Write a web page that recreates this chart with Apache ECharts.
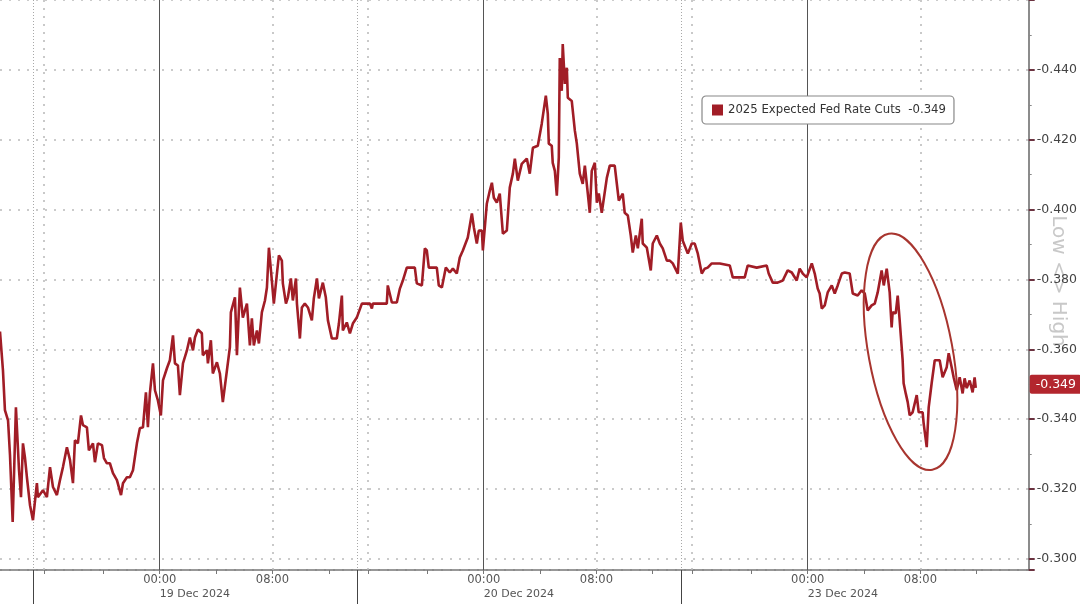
<!DOCTYPE html>
<html><head><meta charset="utf-8">
<script src="https://cdn.jsdelivr.net/npm/echarts@6/dist/echarts.min.js"></script>
<style>html,body{margin:0;padding:0;background:#fff}#c{width:1080px;height:604px}</style>
</head><body><div id="c"></div>
<script>
const seriesName = '2025 Expected Fed Rate Cuts';
const lastValue = -0.349;
// trading-hour index, 0 = start of the 19 Dec session
const hours = [
-2.34,-2.13,-1.99,-1.77,-1.63,-1.44,-1.21,-0.99,-0.85,-0.71,
-0.57,-0.43,-0.21,0,0.28,0.35,0.71,0.99,1.21,1.42,
1.70,1.92,2.13,2.41,2.63,2.84,2.98,3.19,3.41,3.55,
3.83,3.97,4.26,4.40,4.61,4.90,5.04,5.25,5.46,5.68,
5.96,6.25,6.39,6.67,6.88,7.10,7.38,7.59,7.81,8.02,
8.16,8.30,8.52,8.66,8.87,9.08,9.23,9.51,9.72,9.94,
10.08,10.29,
10.43,10.65,10.93,11.14,11.36,11.50,11.71,11.99,12.06,12.35,
12.42,12.63,12.77,13.06,13.27,13.48,13.77,13.98,14.05,14.19,
14.34,14.48,14.69,14.90,15.19,15.40,15.54,15.68,15.90,16.04,
16.25,16.47,16.61,16.75,16.96,17.10,17.32,17.46,17.67,17.74,
17.96,18.10,18.31,18.45,18.67,18.74,18.95,19.09,19.30,19.52,
19.80,19.94,20.16,20.30,20.58,20.79,20.94,21.22,21.57,21.72,
21.93,22.00,22.28,22.50,22.71,22.99,23.35,23.92,24.06,24.13,
25.12,25.19,25.48,25.83,26.05,26.26,26.54,27.11,27.25,27.61,
27.82,27.96,28.10,28.67,28.81,29.03,29.31,29.59,29.81,30.09,
30.30,30.52,30.87,31.16,31.30,31.51,31.65,31.87,31.94,32.22,
32.43,32.58,32.72,32.93,33.14,33.36,33.64,33.85,34.07,34.21,
34.42,34.70,35.06,35.27,35.49,35.84,36.12,36.41,36.55,36.62,
36.83,36.90,37.05,37.19,37.33,37.40,37.54,37.61,37.76,37.90,
37.97,38.25,38.47,38.61,38.82,39.03,39.18,39.39,39.53,39.67,
39.89,40.03,40.17,40.38,40.52,40.74,40.95,41.30,41.45,41.59,
41.87,42.01,42.23,42.44,42.58,42.80,42.94,43.22,43.29,43.58,
43.86,44.00,44.29,44.50,44.71,45.00,45.21,45.42,45.78,
45.99,46.13,46.49,46.77,46.98,47.20,47.48,47.69,47.90,48.19,
48.76,49.47,49.68,50.53,50.74,51.38,52.09,52.23,52.52,52.87,
53.23,53.58,53.87,54.22,54.43,54.65,54.93,55.29,55.50,55.71,
55.85,56.00,56.21,56.42,56.71,56.92,57.13,57.42,57.63,57.98,
58.20,58.55,58.83,59.05,59.26,59.54,59.76,59.97,60.25,60.40,
60.61,60.82,60.96,61.03,61.25,61.39,61.53,61.74,61.81,61.96,
62.10,62.24,62.45,62.74,62.88,63.16,63.23,63.45,63.59,63.80,
64.02,64.37,64.58,64.87,65.01,65.22,65.36,65.58,65.79,66.00,
66.14,66.29,66.50,66.71,66.85,66.93
];
const cuts = [
-0.3651,-0.3540,-0.3426,-0.3397,-0.3297,-0.3106,-0.3434,-0.3254,-0.3177,-0.3331,
-0.3291,-0.3234,-0.3154,-0.3111,-0.3217,-0.3177,-0.3197,-0.3177,-0.3263,-0.3206,
-0.3183,-0.3226,-0.3263,-0.3320,-0.3283,-0.3217,-0.3340,-0.3331,-0.3411,-0.3383,
-0.3377,-0.3311,-0.3331,-0.3277,-0.3331,-0.3326,-0.3289,-0.3274,-0.3274,-0.3246,
-0.3226,-0.3183,-0.3217,-0.3234,-0.3234,-0.3254,-0.3331,-0.3374,-0.3377,-0.3477,
-0.3377,-0.3474,-0.3560,-0.3483,-0.3454,-0.3411,-0.3511,-0.3546,-0.3569,-0.3640,
-0.3560,-0.3554,
-0.3469,-0.3560,-0.3597,-0.3634,-0.3597,-0.3634,-0.3657,-0.3646,-0.3583,-0.3597,
-0.3560,-0.3626,-0.3531,-0.3563,-0.3531,-0.3449,-0.3540,-0.3606,-0.3706,-0.3703,
-0.3749,-0.3583,-0.3777,-0.3691,-0.3731,-0.3611,-0.3689,-0.3611,-0.3654,-0.3617,
-0.3706,-0.3740,-0.3777,-0.3891,-0.3797,-0.3731,-0.3817,-0.3869,-0.3854,-0.3789,
-0.3731,-0.3749,-0.3803,-0.3740,-0.3803,-0.3731,-0.3631,-0.3720,-0.3731,-0.3720,
-0.3683,-0.3746,-0.3803,-0.3746,-0.3791,-0.3749,-0.3683,-0.3631,-0.3631,-0.3674,
-0.3754,-0.3654,-0.3677,-0.3646,-0.3674,-0.3691,-0.3731,-0.3731,-0.3717,-0.3731,
-0.3731,-0.3783,-0.3734,-0.3734,-0.3774,-0.3797,-0.3834,-0.3834,-0.3789,-0.3783,
-0.3889,-0.3883,-0.3834,-0.3834,-0.3783,-0.3777,-0.3834,-0.3820,-0.3831,-0.3817,
-0.3863,-0.3883,-0.3920,-0.3989,-0.3949,-0.3903,-0.3940,-0.3940,-0.3883,-0.4017,
-0.4054,-0.4077,-0.4034,-0.4020,-0.4046,-0.3931,-0.3940,-0.4063,-0.4103,-0.4146,
-0.4083,-0.4131,-0.4146,-0.4103,-0.4177,-0.4183,-0.4246,-0.4326,-0.4274,-0.4189,
-0.4183,-0.4134,-0.4111,-0.4040,-0.4149,-0.4434,-0.4340,-0.4474,-0.4360,-0.4406,
-0.4320,-0.4311,-0.4226,-0.4189,-0.4103,-0.4074,-0.4126,-0.4046,-0.3991,-0.4111,
-0.4134,-0.4020,-0.4046,-0.3991,-0.3991,-0.4091,-0.4126,-0.4126,-0.4074,-0.4026,
-0.4046,-0.3991,-0.3983,-0.3926,-0.3877,-0.3926,-0.3889,-0.3974,-0.3903,-0.3891,
-0.3826,-0.3903,-0.3926,-0.3903,-0.3889,-0.3854,-0.3854,-0.3846,-0.3817,
-0.3963,-0.3911,-0.3874,-0.3903,-0.3903,-0.3874,-0.3817,-0.3831,-0.3834,-0.3846,
-0.3846,-0.3840,-0.3806,-0.3806,-0.3840,-0.3834,-0.3840,-0.3817,-0.3791,-0.3791,
-0.3797,-0.3826,-0.3820,-0.3797,-0.3831,-0.3817,-0.3806,-0.3846,-0.3817,-0.3774,
-0.3760,-0.3717,-0.3726,-0.3763,-0.3783,-0.3760,-0.3783,-0.3817,-0.3820,-0.3817,
-0.3760,-0.3754,-0.3769,-0.3760,-0.3711,-0.3726,-0.3731,-0.3763,-0.3826,-0.3783,
-0.3831,-0.3763,-0.3663,-0.3706,-0.3703,-0.3754,-0.3683,-0.3569,-0.3503,-0.3474,
-0.3449,-0.3411,-0.3420,-0.3469,-0.3420,-0.3420,-0.3389,-0.3320,-0.3434,-0.3503,
-0.3569,-0.3569,-0.3520,-0.3549,-0.3589,-0.3549,-0.3520,-0.3483,-0.3520,-0.3474,
-0.3517,-0.3489,-0.3511,-0.3477,-0.3520,-0.349
];
const timeTickHours = [9, 17, 32, 40, 55, 63];
const timeTickLabels = ['00:00', '08:00', '00:00', '08:00', '00:00', '08:00'];
const dayCenterHours = [11.5, 34.5, 57.5];
const dayLabels = ['19 Dec 2024', '20 Dec 2024', '23 Dec 2024'];
const dayBoundaryHours = [0, 23, 46];
const minorTickHours = [0.8, 5, 9, 13, 17, 21, 23.8, 28, 32, 36, 40, 44, 46.8, 51, 55, 59, 63, 67];
const midnightHours = [9, 32, 55];
const dottedHours = [0.8, 17, 23.8, 40, 46.8, 63];
const yTickValues = [-0.44, -0.42, -0.40, -0.38, -0.36, -0.34, -0.32, -0.30];
const highlight = { hour: 62.3, value: -0.3593 };

const lineColor = '#a11d26';
const xMin = -2.34, xMax = 70.69;

const markData = [];
dayBoundaryHours.forEach(h => markData.push({ xAxis: h, lineStyle: { color: '#a8a8a8', type: [1, 2], width: 1 } }));
dottedHours.forEach(h => markData.push({ xAxis: h, lineStyle: { color: '#b8b8b8', type: [2, 6], width: 1.5 } }));
midnightHours.forEach(h => markData.push({ xAxis: h, lineStyle: { color: '#555', type: 'solid', width: 1 } }));
markData.push({
  yAxis: lastValue,
  lineStyle: { color: 'rgba(0,0,0,0)', width: 0 },
  label: {
    show: true, position: 'end', distance: 1,
    formatter: () => lastValue.toFixed(3),
    backgroundColor: '#b3262e', color: '#fff', fontSize: 12.5, fontFamily: 'DejaVu Sans',
    padding: [3, 5, 3, 6], borderRadius: 2
  }
});

const chart = echarts.init(document.getElementById('c'), null, { renderer: 'canvas' });
const option = {
  backgroundColor: '#fff',
  animation: false,
  grid: { left: 0, right: 51, top: 0, bottom: 34, containLabel: false },
  legend: {
    left: 702, top: 96,
    icon: 'rect', itemWidth: 11, itemHeight: 11,
    backgroundColor: '#fff', borderColor: '#888', borderWidth: 1.2, borderRadius: 4,
    padding: [8, 8, 8, 10],
    formatter: n => n + '  ' + lastValue.toFixed(3),
    textStyle: { color: '#333', fontSize: 11.7, fontFamily: 'DejaVu Sans' },
    data: [seriesName]
  },
  xAxis: [
    {
      type: 'value', min: xMin, max: xMax, position: 'bottom',
      axisLine: { show: true, onZero: false, lineStyle: { color: '#777', width: 1.5 } },
      axisTick: { show: true, customValues: minorTickHours, length: 4, lineStyle: { color: '#777' } },
      axisLabel: {
        customValues: timeTickHours,
        formatter: v => timeTickLabels[timeTickHours.indexOf(v)],
        color: '#555', fontSize: 11.5, fontFamily: 'DejaVu Sans', margin: 4
      },
      splitLine: { show: false }
    },
    {
      type: 'value', min: xMin, max: xMax, position: 'bottom',
      axisLine: { show: false, onZero: false },
      axisTick: { show: true, customValues: dayBoundaryHours, length: 40, lineStyle: { color: '#444', width: 1 } },
      axisLabel: {
        customValues: dayCenterHours,
        formatter: v => dayLabels[dayCenterHours.indexOf(v)],
        color: '#555', fontSize: 11, fontFamily: 'DejaVu Sans', margin: 19
      },
      splitLine: { show: false }
    }
  ],
  yAxis: {
    type: 'value', position: 'right', inverse: true,
    min: -0.46, max: -0.29685, interval: 0.02,
    axisLine: { show: true, onZero: false, lineStyle: { color: '#666', width: 1.5 } },
    axisTick: { show: true, inside: false, length: 6, lineStyle: { color: '#6b3340', width: 2 } },
    minorTick: { show: true, splitNumber: 2, length: 3, lineStyle: { color: '#888' } },
    axisLabel: {
      customValues: yTickValues,
      formatter: v => v.toFixed(3),
      color: '#444', fontSize: 12.5, fontFamily: 'DejaVu Sans', margin: 8
    },
    splitLine: { show: true, lineStyle: { type: [2, 7], color: '#bbb', width: 1.5 } }
  },
  series: [{
    name: seriesName,
    type: 'line',
    data: hours.map((h, i) => [h, cuts[i]]),
    showSymbol: false,
    symbol: 'none',
    z: 3,
    lineStyle: { color: lineColor, width: 2.6 },
    itemStyle: { color: lineColor },
    markLine: { silent: true, symbol: 'none', z: 1, label: { show: false }, data: markData }
  }]
};
chart.setOption(option);

const p = chart.convertToPixel({ gridIndex: 0 }, [highlight.hour, highlight.value]);
chart.setOption({
  graphic: [
    {
      type: 'ellipse', x: p[0], y: p[1], rotation: 0.183, z: 10,
      shape: { cx: 0, cy: 0, rx: 42, ry: 120 },
      style: { fill: 'none', stroke: '#a8352f', lineWidth: 2 }
    },
    {
      type: 'text', x: 1058, y: 281, rotation: -Math.PI / 2, z: 0,
      style: { text: 'Low <> High', fill: '#c8c8c8', fontSize: 20, fontFamily: 'DejaVu Sans', align: 'center', verticalAlign: 'middle' }
    }
  ]
});
</script>
</body></html>
